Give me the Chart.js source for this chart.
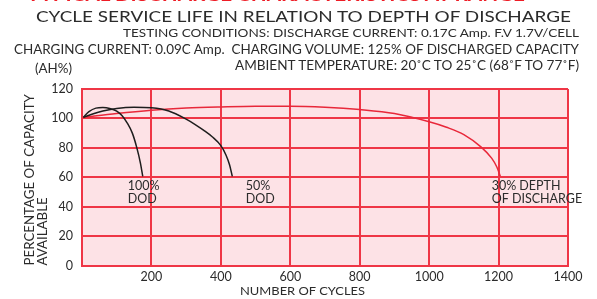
<!DOCTYPE html>
<html>
<head>
<meta charset="utf-8">
<script src="https://cdn.jsdelivr.net/npm/chart.js@4.4.1/dist/chart.umd.min.js"></script>
<style>
  html, body { margin: 0; padding: 0; background: #fff; }
  #wrap { position: relative; width: 597px; height: 299px; overflow: hidden; }
  #chart { position: absolute; left: 0; top: 0; }
  .txt {
    position: absolute; white-space: pre; line-height: 1;
    font-family: Lato, sans-serif; color: #2b2b2b;
    transform-origin: 0 0;
  }
</style>
</head>
<body>
<div id="wrap">
  <canvas id="chart" width="597" height="299"></canvas>
  <!-- header text, positioned by baseline / left edge / width -->
  <div class="txt" data-x="27" data-base="1" data-w="498" data-size="17" style="color:#ee1c25;font-weight:bold">TYPICAL DISCHARGE CHARACTERISTICS AT RANGE</div>
  <div class="txt" data-x="36" data-base="21.7" data-w="535" data-size="16">CYCLE SERVICE LIFE IN RELATION TO DEPTH OF DISCHARGE</div>
  <div class="txt" data-x="123" data-base="37.7" data-w="456" data-size="11.5">TESTING CONDITIONS: DISCHARGE CURRENT: 0.17C Amp. F.V 1.7V/CELL</div>
  <div class="txt" data-x="14" data-base="55" data-w="565" data-size="12.5">CHARGING CURRENT: 0.09C Amp.  CHARGING VOLUME: 125% OF DISCHARGED CAPACITY</div>
  <div class="txt" data-x="235" data-base="70.7" data-w="344" data-size="12.5">AMBIENT TEMPERATURE: 20˚C TO 25˚C (68˚F TO 77˚F)</div>
  <div class="txt" data-x="35" data-base="74.5" data-w="37" data-size="12.5">(AH%)</div>
  <div class="txt" data-x="240" data-base="296" data-w="125" data-size="12">NUMBER OF CYCLES</div>
</div>
<script>
// --- data ---
const xTicks = [0, 200, 400, 600, 800, 1000, 1200, 1400];
const yTicks = [0, 20, 40, 60, 80, 100, 120];

const cycles100 = [4, 20, 40, 60, 80, 100, 115, 130, 145, 158, 168, 175];
const capacity100 = [100.7, 104.6, 107, 107.4, 106.8, 105, 102, 97, 90, 80, 70, 60.6];

const cycles50 = [4, 35, 60, 100, 150, 200, 250, 300, 325, 350, 375, 400, 415, 425, 433];
const capacity50 = [100.7, 103.4, 105, 106.8, 107.6, 107.2, 105, 99.5, 96, 92, 87.5, 81.5, 75, 68.5, 60.6];

const cycles30 = [4, 100, 200, 300, 400, 500, 600, 700, 800, 900, 1000, 1050, 1100, 1150, 1180, 1195, 1205];
const capacity30 = [100.7, 103.3, 105.5, 107, 107.8, 108.3, 108.3, 107.6, 106, 103.3, 97.7, 94, 89, 80.5, 73, 67, 60.6];

// curve labels: [cycles, capacity of first baseline, lines]
const curveLabels = [
    [132, 51.5, ['100%', 'DOD']],
    [472, 51.5, ['50%', 'DOD']],
    [1180, 51.5, ['30% DEPTH', 'OF DISCHARGE']]
];

const gridRed = '#ef3646';
const pink = '#fde2e6';
const ink = '#2b2b2b';

const toPoints = (xs, ys) => xs.map((x, i) => ({ x: x, y: ys[i] }));

// place header text by baseline and stretch to the measured width
document.querySelectorAll('.txt').forEach(el => {
    const size = parseFloat(el.dataset.size);
    el.style.fontSize = size + 'px';
    el.style.left = el.dataset.x + 'px';
    el.style.top = (parseFloat(el.dataset.base) - 0.887 * size) + 'px';
    const w = el.getBoundingClientRect().width;
    el.style.transform = 'scaleX(' + (parseFloat(el.dataset.w) / w) + ')';
});

const plotBackground = {
    id: 'plotBackground',
    beforeDraw(chart) {
        const { ctx, chartArea: a } = chart;
        ctx.save();
        ctx.fillStyle = pink;
        ctx.fillRect(a.left, a.top, a.right - a.left, a.bottom - a.top);
        ctx.restore();
    }
};

const curveText = {
    id: 'curveText',
    afterDatasetsDraw(chart) {
        const { ctx, scales } = chart;
        ctx.save();
        ctx.font = '12.5px Lato, sans-serif';
        ctx.fillStyle = ink;
        ctx.textBaseline = 'alphabetic';
        curveLabels.forEach(([cx, cy, lines]) => {
            const px = scales.x.getPixelForValue(cx);
            const py = scales.y.getPixelForValue(cy);
            lines.forEach((t, i) => ctx.fillText(t, px, py + i * 13));
        });
        ctx.restore();
    }
};

new Chart(document.getElementById('chart'), {
    type: 'line',
    data: {
        datasets: [
            { data: toPoints(cycles100, capacity100), borderColor: '#1e1e1e' },
            { data: toPoints(cycles50, capacity50), borderColor: '#1e1e1e' },
            { data: toPoints(cycles30, capacity30), borderColor: '#e8283a' }
        ]
    },
    options: {
        responsive: false,
        animation: false,
        layout: { padding: { top: 89, right: 29, left: 0, bottom: 0 } },
        elements: {
            point: { radius: 0 },
            line: { borderWidth: 1.5, cubicInterpolationMode: 'monotone', fill: false }
        },
        plugins: { legend: { display: false }, tooltip: { enabled: false } },
        scales: {
            x: {
                type: 'linear', min: 0, max: 1400,
                afterFit: s => { s.height = 33.5; },
                afterBuildTicks: s => { s.ticks = xTicks.map(v => ({ value: v })); },
                grid: { color: gridRed, lineWidth: 2, drawTicks: false },
                border: { color: gridRed, width: 2 },
                ticks: {
                    padding: 4, color: ink,
                    font: { family: 'Lato, sans-serif', size: 12.5 },
                    callback: v => v === 0 ? '' : v
                }
            },
            y: {
                min: 0, max: 120,
                afterFit: s => { s.width = 82; },
                afterBuildTicks: s => { s.ticks = yTicks.map(v => ({ value: v })); },
                grid: { color: gridRed, lineWidth: 2, drawTicks: false },
                border: { color: gridRed, width: 2 },
                ticks: {
                    padding: 9, color: ink,
                    font: { family: 'Lato, sans-serif', size: 12.5 }
                },
                title: {
                    display: true,
                    text: ['PERCENTAGE OF CAPACITY', 'AVAILABLE'],
                    align: 'start',
                    color: ink,
                    font: { family: 'Lato, sans-serif', size: 13.3, lineHeight: 0.95 },
                    padding: { top: 23.7, bottom: 0 }
                }
            }
        }
    },
    plugins: [plotBackground, curveText]
});
</script>
</body>
</html>
